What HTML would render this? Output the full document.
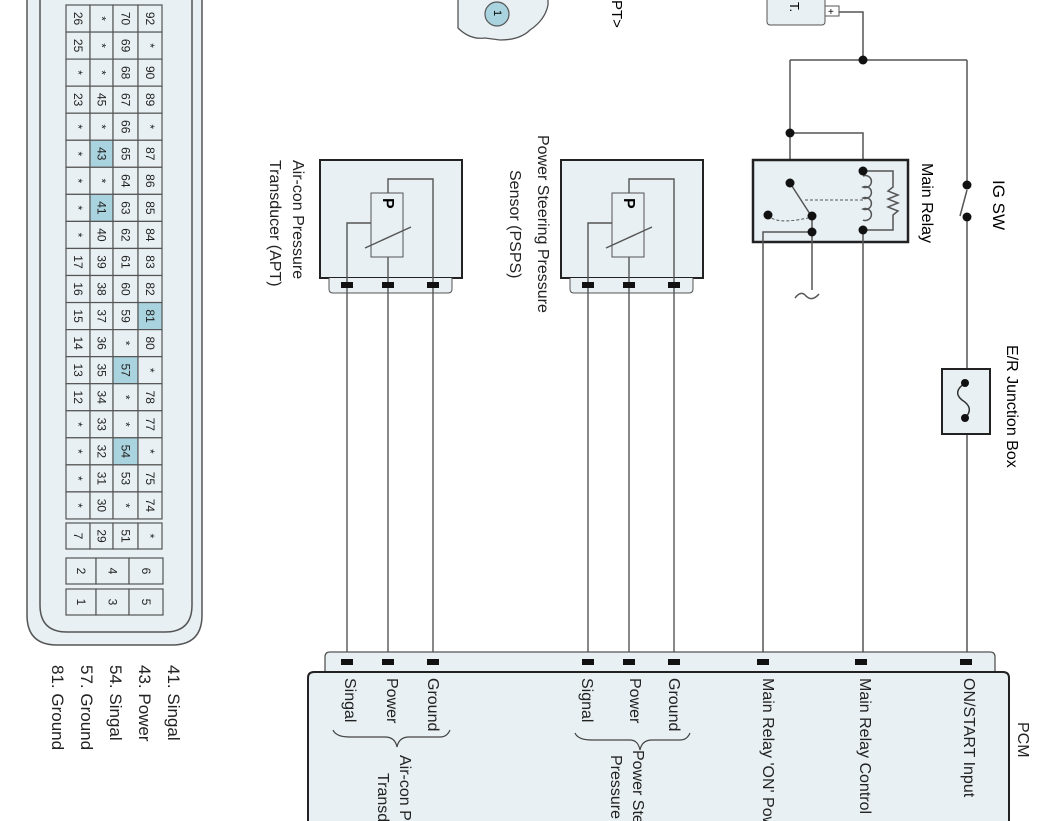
<!DOCTYPE html>
<html><head><meta charset="utf-8"><style>
html,body{margin:0;padding:0;background:#fff;width:1062px;height:821px;overflow:hidden;}
svg{display:block;font-family:"Liberation Sans",sans-serif;overflow:hidden;}
</style></head><body>
<svg width="1062" height="821" viewBox="0 0 1062 821" xmlns="http://www.w3.org/2000/svg">
<!-- connector on left -->
<path d="M27,-5 V615 Q27,645 57,645 H172 Q202,645 202,615 V-5" fill="#e8f0f3" stroke="#555" stroke-width="1.5"/>
<path d="M40,-5 V605 Q40,632 67,632 H165 Q192,632 192,605 V-5" fill="#e8f0f3" stroke="#555" stroke-width="1.5"/>
<g id="grid" font-size="12" fill="#222" stroke="none"></g>
<!-- legend -->
<g font-size="17" fill="#222">
<text transform="translate(168,665) rotate(90)">41. Singal</text>
<text transform="translate(139,665) rotate(90)">43. Power</text>
<text transform="translate(110,665) rotate(90)">54. Singal</text>
<text transform="translate(81,665) rotate(90)">57. Ground</text>
<text transform="translate(52,665) rotate(90)">81. Ground</text>
</g>
<!-- top connector -->
<path d="M458,-2 V28 Q470,40 485,38 L500,40 Q520,40 530,30 Q545,20 548,5 V-2" fill="#e8f0f3" stroke="#555" stroke-width="1.3"/>
<circle cx="497" cy="14" r="12" fill="#a9d3de" stroke="#555" stroke-width="1.2"/>
<text transform="translate(494,10) rotate(90)" font-size="11">1</text>
<text transform="translate(612,0) rotate(90)" font-size="15">PT&gt;</text>
<!-- battery -->
<rect x="767" y="-5" width="58" height="30" rx="3" fill="#e8f0f3" stroke="#555"/>
<text transform="translate(790,2) rotate(90)" font-size="13">T.</text>
<rect x="825" y="6" width="14" height="10" fill="#fff" stroke="#555"/>
<text x="828" y="15" font-size="10">+</text>
<g stroke="#555" stroke-width="1.5" fill="none">
<path d="M839,12 H863 V60"/>
<path d="M790,60 H967"/>
<path d="M790,60 V183"/>
<path d="M967,60 V185"/>
<path d="M967,217 V669"/>
<path d="M790,133 H863 V171"/>
</g>
<!-- relay box -->
<rect x="753" y="160" width="155" height="82" fill="#e8f0f3" stroke="#222" stroke-width="2.5"/>
<g stroke="#555" stroke-width="1.5" fill="none">
<path d="M790,183 L810,214"/>
<path d="M812,232 H763 V669"/>
<path d="M812,216 V290"/>
<path d="M795,298 Q801,290 806,296 Q812,302 819,294"/>
<path d="M863,230 V669"/>
<path d="M863,171 H893 V187 L888,191 L898,195 L888,199 L898,203 L888,207 L898,211 L893,215 V230 H863"/>
<path d="M863,176 a6,6 0 1 1 0,11 a6,6 0 1 1 0,11 a6,6 0 1 1 0,11 a6,6 0 1 1 0,11"/>
<path d="M805,200 H863" stroke-dasharray="3,2" stroke-width="1"/>
<path d="M768,215 Q775,225 808,218" stroke-dasharray="3,2" stroke-width="1"/>
<path d="M967,190 L960,216"/>
</g>
<g fill="#111">
<circle cx="863" cy="60" r="4.5"/><circle cx="790" cy="133" r="4.5"/>
<circle cx="790" cy="183" r="4.5"/><circle cx="863" cy="171" r="4.5"/>
<circle cx="812" cy="216" r="4.5"/><circle cx="812" cy="232" r="4.5"/>
<circle cx="768" cy="215" r="4.5"/><circle cx="863" cy="230" r="4.5"/>
<circle cx="967" cy="185" r="4.5"/><circle cx="967" cy="217" r="4.5"/>
</g>
<text transform="translate(922,163) rotate(90)" font-size="16">Main Relay</text>
<text transform="translate(993,180) rotate(90)" font-size="17">IG SW</text>
<!-- fuse -->
<rect x="942" y="369" width="48" height="65" fill="#e8f0f3" stroke="#222" stroke-width="2"/>
<path d="M965,383 Q952,392 962,400 Q975,408 965,418" stroke="#333" stroke-width="1.5" fill="none"/>
<circle cx="965" cy="383" r="4" fill="#111"/><circle cx="965" cy="418" r="4" fill="#111"/>
<text transform="translate(1007,345) rotate(90)" font-size="16">E/R Junction Box</text>
<!-- sensors -->
<g>
<rect x="320" y="160" width="142" height="118" fill="#e8f0f3" stroke="#222" stroke-width="2"/>
<path d="M329,278 V289 Q329,293 333,293 H448 Q452,293 452,289 V278" fill="#e8f0f3" stroke="#555"/>
<rect x="371" y="193" width="32" height="64" fill="#e8f0f3" stroke="#555"/>
<g stroke="#555" stroke-width="1.4" fill="none">
<path d="M347,670 V223 H371"/><path d="M388,670 V257"/><path d="M433,670 V179 H388 V193"/>
<path d="M365,248 L411,227"/>
</g>
<text transform="translate(383,198) rotate(90)" font-size="16" font-weight="bold">P</text>
<rect x="341" y="282" width="12" height="6" fill="#111"/><rect x="382" y="282" width="12" height="6" fill="#111"/><rect x="427" y="282" width="12" height="6" fill="#111"/>
</g>
<g transform="translate(241,0)">
<rect x="320" y="160" width="142" height="118" fill="#e8f0f3" stroke="#222" stroke-width="2"/>
<path d="M329,278 V289 Q329,293 333,293 H448 Q452,293 452,289 V278" fill="#e8f0f3" stroke="#555"/>
<rect x="371" y="193" width="32" height="64" fill="#e8f0f3" stroke="#555"/>
<g stroke="#555" stroke-width="1.4" fill="none">
<path d="M347,670 V223 H371"/><path d="M388,670 V257"/><path d="M433,670 V179 H388 V193"/>
<path d="M365,248 L411,227"/>
</g>
<text transform="translate(383,198) rotate(90)" font-size="16" font-weight="bold">P</text>
<rect x="341" y="282" width="12" height="6" fill="#111"/><rect x="382" y="282" width="12" height="6" fill="#111"/><rect x="427" y="282" width="12" height="6" fill="#111"/>
</g>
<g font-size="16" fill="#222">
<text transform="translate(293,160) rotate(90)">Air-con Pressure</text>
<text transform="translate(270,160) rotate(90)">Transducer (APT)</text>
<text transform="translate(538,135) rotate(90)">Power Steering Pressure</text>
<text transform="translate(510,170) rotate(90)">Sensor (PSPS)</text>
</g>
<!-- PCM -->
<path d="M325,672 V657 Q325,652 330,652 H990 Q995,652 995,657 V672" fill="#e8f0f3" stroke="#555" stroke-width="1.3"/>
<path d="M308,825 V678 Q308,672 314,672 H1003 Q1009,672 1009,678 V825" fill="#e8f0f3" stroke="#222" stroke-width="2"/>
<g fill="#111">
<rect x="341" y="659" width="12" height="6"/><rect x="382" y="659" width="12" height="6"/><rect x="427" y="659" width="12" height="6"/>
<rect x="582" y="659" width="12" height="6"/><rect x="623" y="659" width="12" height="6"/><rect x="668" y="659" width="12" height="6"/>
<rect x="757" y="659" width="12" height="6"/><rect x="855" y="659" width="12" height="6"/><rect x="960" y="659" width="12" height="6"/>
</g>
<g font-size="16" fill="#222">
<text transform="translate(345,678) rotate(90)">Singal</text>
<text transform="translate(387,678) rotate(90)">Power</text>
<text transform="translate(428,678) rotate(90)">Ground</text>
<text transform="translate(582,678) rotate(90)">Signal</text>
<text transform="translate(630,678) rotate(90)">Power</text>
<text transform="translate(669,678) rotate(90)">Ground</text>
<text transform="translate(763,678) rotate(90)">Main Relay 'ON' Power</text>
<text transform="translate(860,678) rotate(90)">Main Relay Control</text>
<text transform="translate(964,678) rotate(90)">ON/START Input</text>
<text transform="translate(1018,722) rotate(90)">PCM</text>
<text transform="translate(400,755) rotate(90)">Air-con Pressure</text>
<text transform="translate(378,773) rotate(90)">Transducer</text>
<text transform="translate(633,750) rotate(90)">Power Steering</text>
<text transform="translate(611,755) rotate(90)">Pressure Sensor</text>
</g>
<g stroke="#444" stroke-width="1.2" fill="none">
<path d="M333,730 Q336,737 350,737 H385 Q395,737 397,747 Q399,737 409,737 H440 Q447,737 450,730"/>
<path d="M575,733 Q578,740 592,740 H630 Q638,740 640,750 Q642,740 652,740 H680 Q687,740 690,733"/>
</g>
</svg>
<script>
(function(){
var g=document.getElementById('grid');var ns='http://www.w3.org/2000/svg';
var rows=[["26","*","70","92"],["25","*","69","*"],["*","*","68","90"],["23","45","67","89"],["*","*","66","*"],["*","43","65","87"],["*","*","64","86"],["*","41","63","85"],["*","40","62","84"],["17","39","61","83"],["16","38","60","82"],["15","37","59","81"],["14","36","*","80"],["13","35","57","*"],["12","34","*","78"],["*","33","*","77"],["*","32","54","*"],["*","31","53","75"],["*","30","*","74"]];
var hl={"43":1,"41":1,"81":1,"57":1,"54":1};
var cx=[66,90,113,138,162];
function cell(x,y,w,h,t){var r=document.createElementNS(ns,'rect');r.setAttribute('x',x);r.setAttribute('y',y);r.setAttribute('width',w);r.setAttribute('height',h);r.setAttribute('fill',hl[t]?'#a9d3de':'#e8f0f3');r.setAttribute('stroke','#555');r.setAttribute('stroke-width','1.2');g.appendChild(r);
var s=document.createElementNS(ns,'text');s.textContent=t;s.setAttribute('text-anchor','middle');s.setAttribute('transform','translate('+(x+w/2-4)+','+(y+h/2)+') rotate(90)');g.appendChild(s);}
for(var i=0;i<rows.length;i++){for(var j=0;j<4;j++){cell(cx[j],5+i*27.05,cx[j+1]-cx[j],27.05,rows[i][j]);}}
var last=["7","29","51","*"];for(var j=0;j<4;j++)cell(cx[j],523,cx[j+1]-cx[j],26,last[j]);
var c3=[66,96,129,163];var a=["2","4","6"],b=["1","3","5"];
for(var j=0;j<3;j++){cell(c3[j],558,c3[j+1]-c3[j],26,a[j]);cell(c3[j],589,c3[j+1]-c3[j],26,b[j]);}
})();
</script>
</body></html>
